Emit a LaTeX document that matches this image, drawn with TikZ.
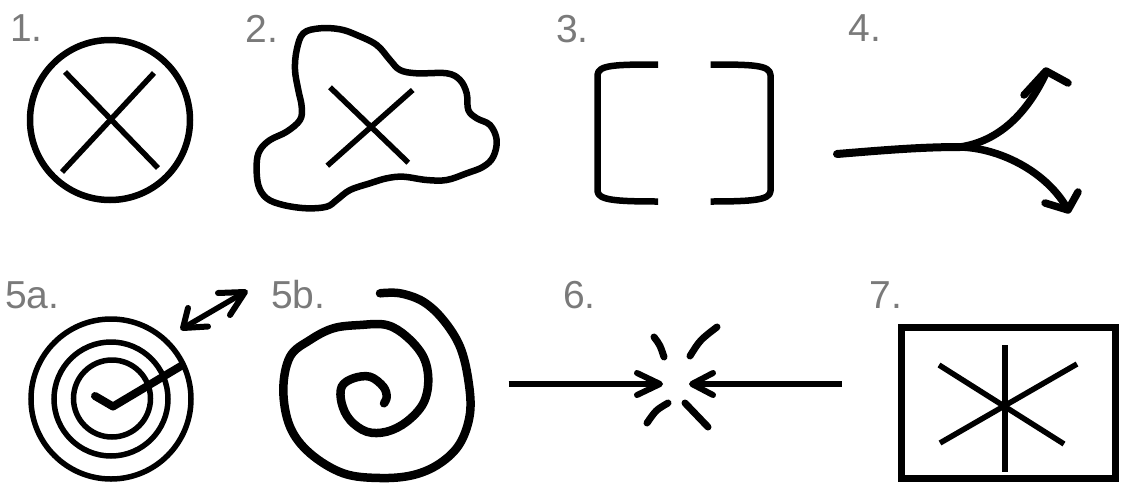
\documentclass[tikz,border=0pt]{standalone}
\usepackage{fontspec}
\setmainfont{Liberation Sans}
\definecolor{labelgray}{RGB}{122,122,122}
\begin{document}
\begin{tikzpicture}[x=1pt,y=-1pt,
  lbl/.style={inner sep=0pt, anchor=base west, text=labelgray, font=\fontsize{39}{42}\selectfont},
  ink/.style={line width=6.5pt, line join=round},
  thin/.style={line width=5.5pt},
  rnd/.style={line cap=round, line join=round},
  thick/.style={line width=8.5pt, line cap=round, line join=round}]
\useasboundingbox (0,0) rectangle (1121,482);
% labels
\node[lbl] (l1) at (10,41) {1.};
\node[lbl] (l2) at (245.5,42) {2.};
\node[lbl] (l3) at (556,42) {3.};
\node[lbl] (l4) at (848.5,41) {4.};
\node[lbl] (l5a) at (5,308) {5a.};
\node[lbl] (l5b) at (271,308) {5b.};
\node[lbl] (l6) at (563,308) {6.};
\node[lbl] (l7) at (869.5,308) {7.};
% 1. circle with X
\draw[ink] (110,120) circle (80);
\draw[thin] (65,72) -- (158,168);
\draw[thin] (154,73) -- (62,172);
% 2. cloud with X
\draw[ink] plot[smooth cycle, tension=0.6] coordinates {
 (296.7,50) (303.3,33.3) (320,28.3) (340,29.3) (356.7,35) (376.7,45) (390,60) (400,70)
 (416.7,73.3) (446.7,73.3) (460,80) (466.7,93.3) (468.3,110) (476.7,118.3) (490,125)
 (496.7,140) (493.3,156.7) (483.3,166.7) (466.7,173.3) (446.7,180) (426.7,180)
 (403.3,176.7) (386.7,178.3) (370,183.3) (350,190) (336.7,200) (326.7,206.7)
 (306.7,208.3) (283.3,205) (266.7,198.3) (258.3,185) (256.7,163.3) (260,150)
 (270,140) (286.7,131.7) (300,120) (301.7,106.7) (298.3,90) (295,70)};
\draw[thin] (330,87.3) -- (408.3,162.7);
\draw[thin] (412.7,90) -- (327.3,165.7);
% 3. brackets
\draw[ink] (658,64.5) .. controls (615,64.5) and (598,65) .. (597.5,75) -- (597.5,191) .. controls (598,200) and (615,201.5) .. (658,201.5);
\draw[ink] (710.5,64.5) .. controls (753,64.5) and (770,65) .. (770.5,75) -- (770.5,191) .. controls (770,200) and (753,201.5) .. (710.5,201.5);
% 4. splitting arrow
\coordinate (j) at (960,147);
\draw[line width=8pt, rnd] (837,154) .. controls (880,150.5) and (920,147) .. (j);
\draw[line width=7.5pt, rnd] (j) .. controls (995,142) and (1025,118) .. (1046,73);
\draw[line width=7.5pt, rnd] (j) .. controls (998,148) and (1045,170) .. (1067,208);
\draw[line width=7.5pt, rnd] (1024,95) -- (1046,71) -- (1068,83);
\draw[line width=7.5pt, rnd] (1045,203) -- (1068,210) -- (1078,192);
% 5a. target
\draw[line width=5.5pt] (111,399) circle (80);
\draw[line width=5.5pt] (111,399) circle (57);
\draw[line width=5.5pt] (112,398.5) circle (38.5);
\draw[line width=8pt, rnd] (95,396) -- (113,406.5) -- (181,366);
\draw[line width=5.5pt, rnd] (184,327.5) -- (244,292.5);
\draw[line width=6pt, rnd] (188,308) -- (183,328) -- (208,326.5);
\draw[line width=6pt, rnd] (218,293) -- (245,292) -- (230,315);
% 5b. spiral
\draw[thick] plot[smooth, tension=0.6] coordinates {
 (380,293.3) (400,293.3) (423.3,301.7) (443.3,320) (460,346.7) (468.3,380) (470,413.3)
 (460,443.3) (440,463.3) (413.3,475) (380,478) (343.3,473.3) (310,453.3) (290,426.7)
 (283.3,390) (290,356.7) (310,340) (333.3,328.3) (360,325) (386.7,325) (406.7,336.7)
 (423.3,356.7) (428.3,380) (423.3,403.3) (406.7,421.7) (386.7,431.7) (366.7,431.7)
 (350,420) (341.7,403.3) (341.7,386.7) (353.3,378.3) (370,376.7) (383.3,386.7)
 (386.7,396.7) (384,403.3)};
% 6. collision
\draw[line width=5.5pt] (508.5,384) -- (658,384);
\draw[line width=6pt, rnd] (637,373) -- (660,384) -- (637,395);
\draw[line width=5.5pt] (841.5,384) -- (694,384);
\draw[line width=6pt, rnd] (713,373) -- (692,384) -- (713,395);
\draw[line width=7pt, line cap=round] (654,337) .. controls (660,345) .. (664,357);
\draw[line width=7pt, line cap=round] (717,327) .. controls (700,340) .. (690,356);
\draw[line width=7pt, line cap=round] (668,403) .. controls (656,410) .. (647,423);
\draw[line width=7pt, line cap=round] (685,403) -- (708,427);
% 7. box with asterisk
\draw[line width=7pt] (901.5,327.5) rectangle (1115,478);
\draw[thin] (1005,345) -- (1005,472);
\draw[thin] (939,365) -- (1064,444);
\draw[thin] (1077,364) -- (940,443);
\end{tikzpicture}
\end{document}
